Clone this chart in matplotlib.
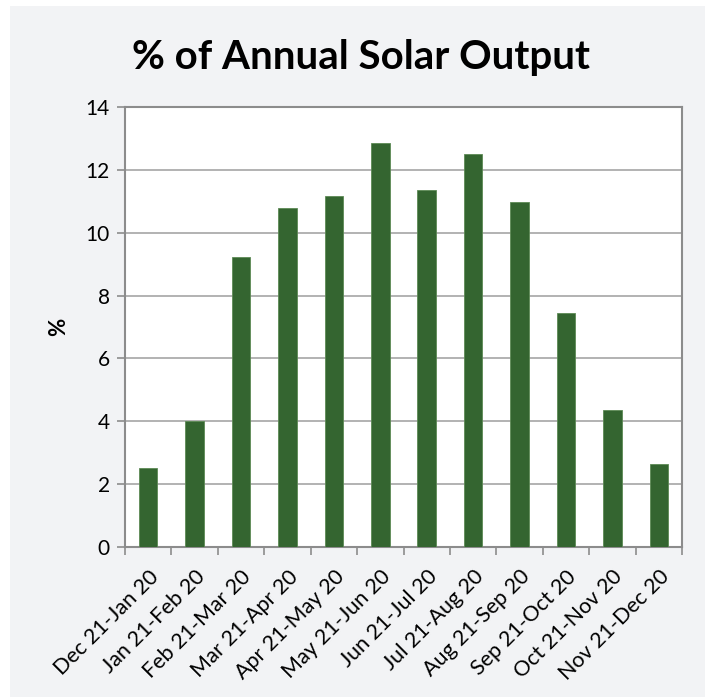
import matplotlib
matplotlib.use("Agg")
import matplotlib.pyplot as plt
from matplotlib.patches import Rectangle
import numpy as np

categories = ["Dec 21-Jan 20", "Jan 21-Feb 20", "Feb 21-Mar 20", "Mar 21-Apr 20",
              "Apr 21-May 20", "May 21-Jun 20", "Jun 21-Jul 20", "Jul 21-Aug 20",
              "Aug 21-Sep 20", "Sep 21-Oct 20", "Oct 21-Nov 20", "Nov 21-Dec 20"]
values = [2.5, 4.02, 9.22, 10.78, 11.18, 12.84, 11.37, 12.49, 10.97, 7.43, 4.36, 2.63]
yticks = [0, 2, 4, 6, 8, 10, 12, 14]

plt.rcParams['font.family'] = ['Lato', 'DejaVu Sans']

fig = plt.figure(figsize=(7.11, 6.98), dpi=100)
fig.patch.set_facecolor("white")
fig.add_artist(Rectangle((10/711, 1/698), 1 - 16/711, 1 - 7/698, transform=fig.transFigure,
                         facecolor="#f2f3f5", edgecolor="none", zorder=-10))

ax = fig.add_axes([125/711, 1 - 547/698, (682 - 125)/711, (547 - 107)/698])
ax.set_facecolor("white")
x = np.arange(len(categories))
ax.bar(x, values, width=0.4, color="#346530", edgecolor="#5d8a55", linewidth=0.6, zorder=3)

ax.set_xlim(-0.5, len(categories) - 0.5)
ax.set_ylim(0, 14)
ax.set_yticks(yticks)
ax.set_yticklabels([str(v) for v in yticks], fontsize=15)
ax.yaxis.grid(True, color="#a6a6a6", linewidth=1.2, zorder=1)

ax.set_xticks(np.arange(-0.5, len(categories) + 0.5, 1.0))
ax.set_xticklabels([])
ax.set_xticks(x, minor=True)
ax.set_xticklabels(categories, minor=True, rotation=45, ha="right", rotation_mode="anchor",
                   fontsize=15.5)
ax.tick_params(axis="x", which="minor", length=0, pad=14)
ax.tick_params(axis="x", which="major", length=6, width=1.2, color="#8c8c8c")
ax.tick_params(axis="y", length=6, width=1.2, color="#8c8c8c", pad=5)

for s in ["left", "bottom", "right", "top"]:
    ax.spines[s].set_color("#8c8c8c")
    ax.spines[s].set_linewidth(1.5)

ax.set_ylabel("%", fontsize=16, fontweight="bold", labelpad=12)
fig.text(0.5 * (133 + 590) / 711, 1 - 57/698, "% of Annual Solar Output", ha="center", va="center",
         fontsize=29, fontweight="bold")

fig.savefig("out.png", dpi=100)
